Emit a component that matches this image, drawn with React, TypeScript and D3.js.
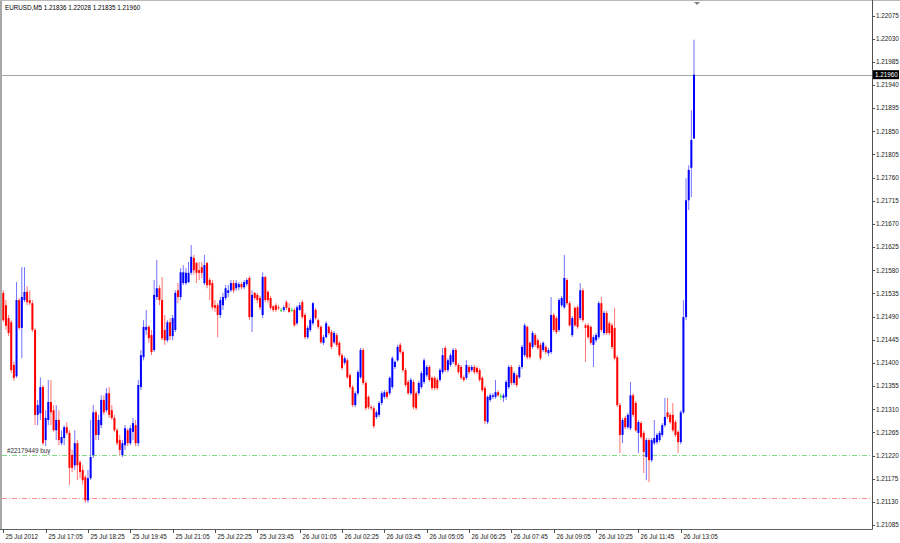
import React from "react";
import * as d3 from "d3";

const chartTitle = "EURUSD,M5  1.21836 1.22028 1.21835 1.21960";
const currentPrice = 1.2196;
const orderPrice = 1.21221;
const orderLabel = "#22179449 buy";
const stopPrice = 1.21137;

const priceTicks = [
  1.22075, 1.2203, 1.21985, 1.2194, 1.21895, 1.2185, 1.21805, 1.2176, 1.21715, 1.2167, 1.21625, 1.2158,
  1.21535, 1.2149, 1.21445, 1.214, 1.21355, 1.2131, 1.21265, 1.2122, 1.21175, 1.2113, 1.21085,
];

const timeLabels = [
  "25 Jul 2012", "25 Jul 17:05", "25 Jul 18:25", "25 Jul 19:45", "25 Jul 21:05", "25 Jul 22:25",
  "25 Jul 23:45", "26 Jul 01:05", "26 Jul 02:25", "26 Jul 03:45", "26 Jul 05:05", "26 Jul 06:25",
  "26 Jul 07:45", "26 Jul 09:05", "26 Jul 10:25", "26 Jul 11:45", "26 Jul 13:05",
];
const timeLabelBars = [0, 16, 32, 48, 64, 80, 96, 112, 128, 144, 160, 176, 192, 208, 224, 240, 256];

// [open, high, low, close]
const candles: [number, number, number, number][] = [
  [1.21536,1.21541,1.21479,1.21483],[1.21512,1.21522,1.21464,1.21472],[1.21487,1.21493,1.21452,1.21458],[1.21479,1.21483,1.2138,1.21386],
  [1.21396,1.21402,1.21365,1.21371],[1.21374,1.21557,1.21371,1.21522],[1.21522,1.21526,1.21464,1.21468],[1.21468,1.21586,1.21409,1.21528],
  [1.21522,1.21586,1.21518,1.21538],[1.21538,1.21549,1.21512,1.21518],[1.21522,1.21541,1.21512,1.21516],[1.21516,1.21522,1.2146,1.21464],
  [1.21464,1.21468,1.21279,1.21299],[1.21299,1.21328,1.21279,1.21318],[1.21302,1.21372,1.21289,1.21353],[1.21353,1.21357,1.2124,1.21244],
  [1.2125,1.21308,1.21238,1.21293],[1.21289,1.21367,1.21279,1.21324],[1.21324,1.21367,1.21279,1.21304],[1.21308,1.21318,1.21266,1.21269],
  [1.21269,1.21318,1.2125,1.21289],[1.21289,1.21308,1.2124,1.2125],[1.21244,1.21269,1.2124,1.21256],[1.21254,1.21279,1.2124,1.21275],
  [1.21275,1.21285,1.2126,1.21264],[1.21264,1.21269,1.21163,1.21196],[1.21221,1.21231,1.21188,1.21196],[1.21201,1.21269,1.21192,1.21244],
  [1.21244,1.2125,1.21172,1.21201],[1.21207,1.21211,1.21176,1.21188],[1.21192,1.21201,1.21163,1.21172],[1.21178,1.21182,1.21128,1.21133],
  [1.21133,1.21192,1.21128,1.21176],[1.21176,1.21289,1.21172,1.21217],[1.21221,1.21318,1.21215,1.21304],[1.21304,1.21308,1.2125,1.2126],
  [1.2126,1.21299,1.2125,1.21289],[1.21279,1.21337,1.21273,1.21328],[1.21328,1.21337,1.21299,1.21304],[1.21308,1.21351,1.21304,1.21341],
  [1.21341,1.21353,1.21293,1.21299],[1.21308,1.21318,1.21289,1.21293],[1.21293,1.21299,1.21266,1.21269],[1.21269,1.21273,1.2124,1.21244],
  [1.2125,1.2126,1.21221,1.21231],[1.21221,1.2125,1.21217,1.21244],[1.2124,1.21279,1.21231,1.21273],[1.21269,1.21273,1.21238,1.21244],
  [1.21244,1.21279,1.2124,1.21273],[1.21266,1.21293,1.2125,1.21283],[1.21279,1.21289,1.21238,1.21244],[1.21244,1.21367,1.21238,1.21357],
  [1.21353,1.21425,1.21347,1.21415],[1.21411,1.21483,1.21405,1.2147],[1.21464,1.21503,1.21454,1.2147],[1.2147,1.21473,1.21439,1.21448],
  [1.21454,1.21464,1.21415,1.21421],[1.21425,1.21561,1.21421,1.21532],[1.21528,1.216,1.21522,1.21545],[1.21545,1.21551,1.21512,1.21522],
  [1.21522,1.21567,1.21444,1.21448],[1.21464,1.21493,1.21435,1.21444],[1.21444,1.21483,1.2144,1.21479],[1.21479,1.21487,1.21444,1.21452],
  [1.21452,1.21493,1.21444,1.21487],[1.21464,1.21541,1.2146,1.21536],[1.21541,1.21555,1.21516,1.21528],[1.21528,1.21584,1.21522,1.21576],
  [1.21555,1.2159,1.21551,1.21576],[1.21555,1.21584,1.21551,1.21575],[1.21557,1.21596,1.21555,1.21575],[1.21575,1.21629,1.21571,1.21606],
  [1.21604,1.2161,1.21571,1.2158],[1.21594,1.21596,1.21555,1.21575],[1.2158,1.21596,1.21561,1.21575],[1.21586,1.21596,1.21565,1.21575],
  [1.21555,1.2161,1.21551,1.2159],[1.21594,1.21596,1.21545,1.21551],[1.21561,1.21565,1.21522,1.21551],[1.21555,1.21561,1.21503,1.21508],
  [1.21512,1.21522,1.21499,1.21507],[1.21512,1.21516,1.2145,1.21493],[1.21493,1.21528,1.21487,1.21522],[1.21512,1.21536,1.21503,1.21528],
  [1.21526,1.21551,1.21522,1.21545],[1.21536,1.21551,1.21528,1.21541],[1.21541,1.21561,1.21538,1.21555],[1.21555,1.21561,1.21536,1.21541],
  [1.21545,1.21561,1.2154,1.21555],[1.21547,1.21557,1.21541,1.21553],[1.21553,1.21557,1.21543,1.21547],[1.21547,1.21561,1.21543,1.21557],
  [1.21553,1.21565,1.21549,1.21561],[1.21565,1.21569,1.21483,1.21489],[1.21489,1.21541,1.2146,1.21532],[1.21536,1.21538,1.21522,1.21526],
  [1.21532,1.21536,1.21516,1.21522],[1.21526,1.2153,1.21503,1.21508],[1.21493,1.21576,1.21487,1.21567],[1.21567,1.21569,1.21518,1.21522],
  [1.21538,1.21541,1.21516,1.21522],[1.21526,1.2153,1.21503,1.21507],[1.2151,1.21512,1.21499,1.21503],[1.21512,1.21516,1.21499,1.21503],
  [1.21508,1.21512,1.21503,1.21507],[1.21503,1.21507,1.21499,1.21503],[1.21503,1.21512,1.21499,1.21508],[1.21518,1.21522,1.21503,1.21507],
  [1.21507,1.21516,1.21497,1.21499],[1.21503,1.21508,1.21499,1.21503],[1.21503,1.21507,1.2147,1.21473],[1.21477,1.21512,1.21473,1.21508],
  [1.21503,1.21518,1.21501,1.21512],[1.21518,1.21522,1.21485,1.21489],[1.21493,1.21497,1.21446,1.2145],[1.2145,1.21472,1.21446,1.21468],
  [1.21464,1.21487,1.2146,1.21483],[1.21477,1.21518,1.21473,1.21516],[1.21503,1.21507,1.21483,1.21487],[1.21483,1.21487,1.21466,1.2147],
  [1.2147,1.21473,1.21437,1.2144],[1.21439,1.21454,1.21435,1.2145],[1.2145,1.21481,1.21448,1.21477],[1.2147,1.21473,1.21454,1.21458],
  [1.2146,1.21464,1.21427,1.21431],[1.2144,1.21462,1.21437,1.21458],[1.21454,1.21458,1.21431,1.21435],[1.21439,1.21442,1.21411,1.21415],
  [1.21415,1.21419,1.21386,1.2139],[1.214,1.21413,1.21396,1.21409],[1.21405,1.21409,1.21369,1.21372],[1.21376,1.2138,1.21349,1.21353],
  [1.21353,1.21357,1.21314,1.21318],[1.21318,1.21345,1.21314,1.21341],[1.21341,1.21386,1.21337,1.21382],[1.21372,1.21429,1.21369,1.21425],
  [1.21425,1.21429,1.21357,1.21361],[1.21361,1.21365,1.21308,1.21312],[1.21334,1.21337,1.2131,1.21314],[1.21314,1.21318,1.21308,1.21312],
  [1.21312,1.21316,1.21273,1.21277],[1.21295,1.21308,1.21291,1.21304],[1.21299,1.21326,1.21295,1.21322],[1.21322,1.21345,1.21318,1.21341],
  [1.21334,1.21347,1.2133,1.21343],[1.21343,1.21347,1.2133,1.21334],[1.21341,1.21374,1.21337,1.21371],[1.21353,1.21413,1.21349,1.21409],
  [1.21392,1.21405,1.21388,1.21402],[1.21405,1.21435,1.21402,1.21431],[1.21435,1.21439,1.21417,1.21421],[1.21421,1.21425,1.21382,1.21386],
  [1.21386,1.2139,1.21353,1.21357],[1.21363,1.21367,1.21337,1.21341],[1.21341,1.21371,1.21337,1.21367],[1.21363,1.21367,1.2131,1.21314],
  [1.21341,1.21345,1.21308,1.21312],[1.21341,1.21365,1.21337,1.21361],[1.21353,1.21384,1.21349,1.2138],[1.21363,1.21409,1.21359,1.21405],
  [1.21376,1.21396,1.21372,1.21392],[1.21392,1.21396,1.21363,1.21367],[1.21371,1.21374,1.21347,1.21351],[1.21371,1.21374,1.21347,1.21351],
  [1.21367,1.21371,1.21347,1.21351],[1.21367,1.2139,1.21363,1.21386],[1.21382,1.21429,1.21378,1.21415],[1.21429,1.21433,1.21382,1.21386],
  [1.21386,1.21409,1.21382,1.21405],[1.21396,1.21419,1.21392,1.21415],[1.21402,1.21429,1.21398,1.21425],[1.21425,1.21429,1.21392,1.21396],
  [1.21396,1.214,1.21378,1.21382],[1.21392,1.21396,1.21367,1.21371],[1.21372,1.21376,1.21363,1.21367],[1.21371,1.21405,1.21367,1.21396],
  [1.21392,1.21396,1.21378,1.21382],[1.21386,1.21396,1.21382,1.21392],[1.21392,1.21396,1.21378,1.21382],[1.2139,1.21394,1.21378,1.21382],
  [1.21386,1.2139,1.21363,1.21367],[1.21371,1.21374,1.21343,1.21347],[1.21351,1.21355,1.21281,1.21287],[1.21285,1.21337,1.21281,1.21334],
  [1.21328,1.21341,1.21324,1.21337],[1.21334,1.21341,1.2133,1.21337],[1.21334,1.21367,1.2133,1.21343],[1.21343,1.21347,1.21334,1.21337],
  [1.21336,1.21341,1.21328,1.21336],[1.21332,1.21341,1.21324,1.21337],[1.21334,1.21367,1.21328,1.21363],[1.21353,1.21396,1.21349,1.21392],
  [1.21392,1.21396,1.21357,1.21361],[1.21361,1.21384,1.21357,1.2138],[1.21376,1.2138,1.21353,1.21357],[1.21372,1.21396,1.21369,1.21392],
  [1.21392,1.21435,1.21388,1.21431],[1.21415,1.21477,1.21411,1.21473],[1.2147,1.21473,1.21407,1.21411],[1.21439,1.21442,1.21407,1.21411],
  [1.21431,1.21462,1.21427,1.21458],[1.21454,1.21458,1.21431,1.21435],[1.21444,1.21448,1.21425,1.21429],[1.21435,1.21439,1.21405,1.21409],
  [1.21425,1.21442,1.21421,1.21439],[1.21431,1.21435,1.21417,1.21421],[1.21419,1.21429,1.21413,1.21425],[1.21421,1.21528,1.21417,1.21493],
  [1.21493,1.21497,1.2146,1.21464],[1.21487,1.21491,1.21456,1.2146],[1.21464,1.21526,1.2146,1.21522],[1.21512,1.2153,1.21508,1.21526],
  [1.21508,1.2161,1.21505,1.21565],[1.21561,1.21565,1.21512,1.21516],[1.21516,1.2152,1.2147,1.21473],[1.21454,1.21491,1.2145,1.21487],
  [1.21507,1.2151,1.2147,1.21473],[1.21508,1.21512,1.21466,1.2147],[1.21487,1.21555,1.21483,1.21541],[1.21541,1.21545,1.21479,1.21483],
  [1.21473,1.21477,1.21402,1.21468],[1.21473,1.21477,1.21446,1.2145],[1.2147,1.21473,1.21435,1.21439],[1.21435,1.21454,1.21392,1.2145],
  [1.21444,1.21458,1.2144,1.21454],[1.2145,1.2152,1.21446,1.21516],[1.21516,1.21528,1.2146,1.21464],[1.21458,1.21501,1.21454,1.21497],
  [1.21497,1.21501,1.21454,1.21458],[1.21477,1.21481,1.21454,1.21458],[1.21473,1.21477,1.21427,1.21431],[1.21468,1.21507,1.21405,1.21409],
  [1.21411,1.21415,1.21314,1.21318],[1.21318,1.21322,1.21225,1.2126],[1.2126,1.21293,1.21244,1.21289],[1.21293,1.21297,1.21271,1.21275],
  [1.21275,1.21303,1.21271,1.21299],[1.21273,1.21363,1.21269,1.21337],[1.21337,1.21341,1.21295,1.21299],[1.21322,1.21326,1.21266,1.21269],
  [1.21264,1.21289,1.21225,1.21285],[1.21283,1.21287,1.21252,1.21256],[1.21264,1.21268,1.21186,1.21227],[1.21217,1.21254,1.21172,1.2125],
  [1.2125,1.21254,1.21168,1.21211],[1.21211,1.21254,1.21207,1.2125],[1.21244,1.21289,1.2124,1.21254],[1.21246,1.21264,1.21242,1.2126],
  [1.2125,1.21268,1.21246,1.21264],[1.2126,1.21283,1.21256,1.21279],[1.21279,1.21332,1.21275,1.21295],[1.21304,1.21332,1.21291,1.21295],
  [1.21299,1.21303,1.21281,1.21285],[1.21299,1.21322,1.21266,1.21269],[1.21285,1.21289,1.21256,1.2126],[1.21266,1.21269,1.21225,1.21246],
  [1.21246,1.21308,1.21242,1.21304],[1.21304,1.21522,1.21301,1.21489],[1.21489,1.21759,1.21483,1.21716],[1.21716,1.21784,1.21697,1.21775],
  [1.21779,1.21891,1.21722,1.21833],[1.21836,1.22028,1.21835,1.2196],
];

const W = 900;
const H = 543;
const axisX = 872;
const axisY = 529;
const FONT = "'Liberation Sans', Arial, sans-serif";

export default function App() {
  const y = d3.scaleLinear().domain([1.21085, 1.22075]).range([525, 15.5]);
  const x = d3.scaleLinear().domain([0, candles.length - 1]).range([3.3, 694]);
  const fmt = d3.format(".5f");

  return (
    <div style={{ position: "absolute", left: 0, top: 0 }}>
      <svg width={W} height={H} style={{ display: "block", background: "#fff" }}>
        <rect x={0} y={0} width={W} height={H} fill="#fff" />
        {/* frame */}
        <rect x={0} y={0} width={2} height={axisY} fill="#a8a8a8" />
        <line x1={0} x2={W} y1={0.5} y2={0.5} stroke="#b8b8b8" />

        {/* current price line */}
        <line x1={2} x2={axisX} y1={Math.round(y(currentPrice)) + 0.5} y2={Math.round(y(currentPrice)) + 0.5} stroke="#a0a8b0" strokeWidth={1} />
        {/* order lines */}
        <line x1={2} x2={axisX} y1={Math.round(y(orderPrice)) + 0.5} y2={Math.round(y(orderPrice)) + 0.5} stroke="#86d886" strokeWidth={1} strokeDasharray="5,2,1,2" />
        <line x1={2} x2={axisX} y1={Math.round(y(stopPrice)) + 0.5} y2={Math.round(y(stopPrice)) + 0.5} stroke="#ff8c8c" strokeWidth={1.2} strokeDasharray="5,2,1,2" />
        <text x={7} y={y(orderPrice) - 2} fontFamily={FONT} fontSize={6.3} fill="#303030">{orderLabel}</text>

        {/* candles */}
        {candles.map(([o, h, l, c], i) => {
          const cx = x(i);
          const color = c > o ? "#0000ff" : c < o ? "#ff0000" : "#00e000";
          const top = y(Math.max(o, c));
          const bot = y(Math.min(o, c));
          return (
            <g key={i}>
              <line x1={cx} x2={cx} y1={y(h)} y2={y(l)} stroke={color} strokeWidth={1} strokeOpacity={0.55} />
              <rect x={cx - 1} y={top} width={2} height={Math.max(1, bot - top)} fill={color} />
            </g>
          );
        })}

        {/* axes */}
        <line x1={axisX + 0.5} x2={axisX + 0.5} y1={0} y2={axisY + 0.5} stroke="#505050" />
        <line x1={0} x2={axisX + 0.5} y1={axisY + 0.5} y2={axisY + 0.5} stroke="#606060" />

        {priceTicks.map((p) => (
          <g key={p}>
            <line x1={axisX} x2={axisX + 3} y1={Math.round(y(p)) + 0.5} y2={Math.round(y(p)) + 0.5} stroke="#505050" />
            <text x={axisX + 4} y={y(p) + 2.3} fontFamily={FONT} fontSize={6.3} fill="#202020">{fmt(p)}</text>
          </g>
        ))}

        {timeLabels.map((t, k) => {
          const tx = Math.round(x(timeLabelBars[k])) + 0.5;
          return (
            <g key={t}>
              <line x1={tx} x2={tx} y1={axisY} y2={axisY + 4} stroke="#505050" />
              <text x={tx + 2} y={538.5} fontFamily={FONT} fontSize={6.3} fill="#202020">{t}</text>
            </g>
          );
        })}

        {/* current price tag */}
        <rect x={axisX + 1} y={y(currentPrice) - 4.5} width={26} height={9} fill="#000" />
        <text x={axisX + 3} y={y(currentPrice) + 2.3} fontFamily={FONT} fontSize={6.3} fill="#fff">{fmt(currentPrice)}</text>

        {/* shift marker */}
        <path d="M694,2 L700,2 L697,5 Z" fill="#808080" />

        {/* title */}
        <text x={5} y={10} fontFamily={FONT} fontSize={6.3} fill="#000">{chartTitle}</text>
      </svg>
    </div>
  );
}
